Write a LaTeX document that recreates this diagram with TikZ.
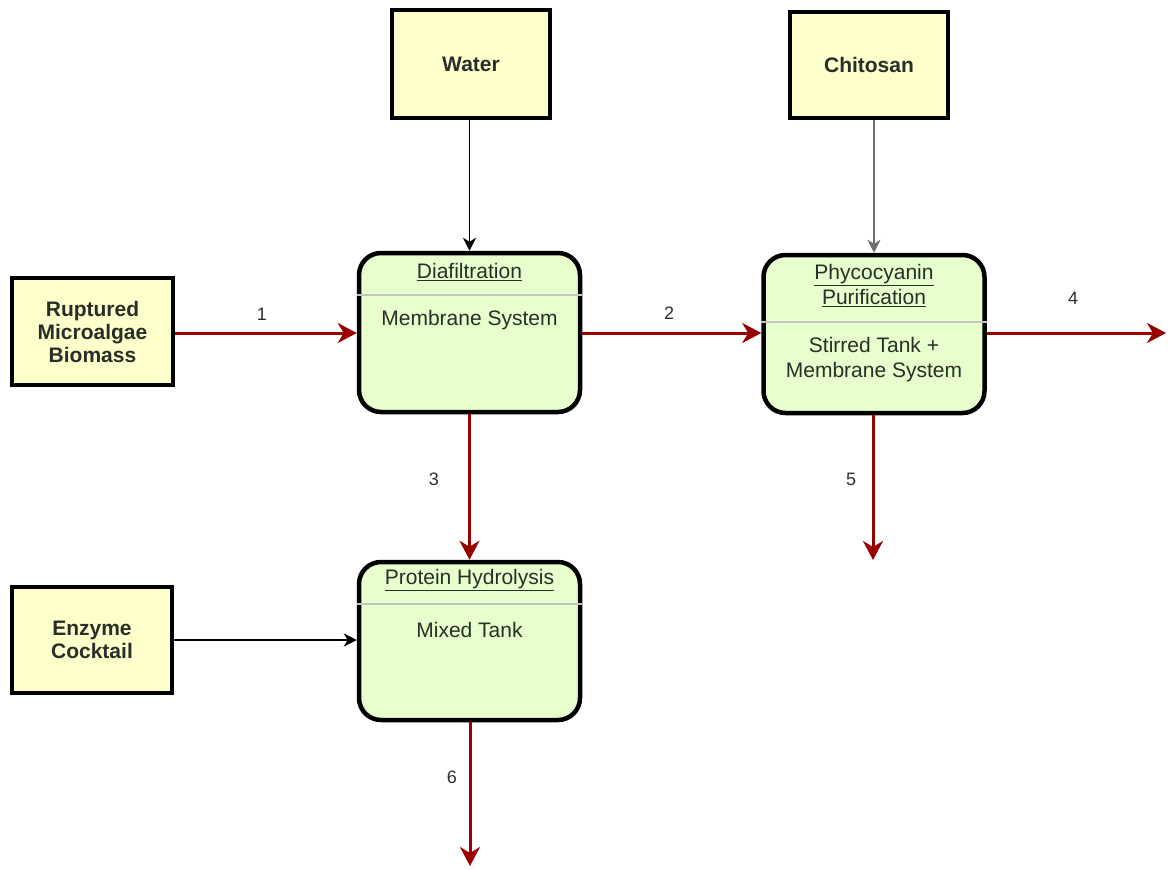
\documentclass[tikz,border=0pt]{standalone}
\usepackage{fontspec}
\setmainfont{Liberation Sans}
\usetikzlibrary{arrows.meta}
\definecolor{inputfill}{HTML}{FFFFCC}
\definecolor{unitfill}{HTML}{E6FFCC}
\definecolor{flowred}{HTML}{990000}
\definecolor{bodytext}{HTML}{2A2E28}
\definecolor{sepline}{HTML}{C4C4C4}
\definecolor{feedgray}{HTML}{707070}
\tikzset{
  inputbox/.style={draw=black, line width=4.5pt, fill=inputfill, rectangle,
    align=center, text=bodytext, font=\fontsize{21}{23}\selectfont\bfseries},
  unitbox/.style={draw=black, line width=4.5pt, fill=unitfill, rectangle,
    rounded corners=22pt, minimum width=221pt},
  unittitle/.style={align=center, text=bodytext, font=\fontsize{21}{25}\selectfont, inner sep=0pt},
  unitbody/.style={align=center, text=bodytext, font=\fontsize{21}{25}\selectfont, inner sep=0pt},
  separator/.style={draw=sepline, line width=1.8pt},
  redflow/.style={draw=flowred, line width=3pt,
    -{Stealth[length=19pt,width=20pt,inset=6pt]}},
  feedflow/.style={draw=black, line width=1.5pt,
    -{Stealth[length=13pt,width=13pt,inset=4pt]}},
  streamno/.style={text=bodytext, font=\fontsize{18}{20}\selectfont, inner sep=0pt},
}
\begin{document}
\begin{tikzpicture}[x=1pt, y=-1pt]
  \useasboundingbox (0,0) rectangle (1168,870);

  % feed materials
  \node[inputbox, minimum width=158pt, minimum height=108pt] (water) at (471,64) {Water};
  \node[inputbox, minimum width=158pt, minimum height=106pt] (chito) at (869,65) {Chitosan};
  \node[inputbox, minimum width=161pt, minimum height=107pt] (bio) at (92.5,331.5)
    {Ruptured\\Microalgae\\Biomass};
  \node[inputbox, minimum width=160pt, minimum height=106pt] (enz) at (92,640)
    {Enzyme\\Cocktail};

  % process units
  \node[unitbox, minimum height=159pt] (dia) at (469.5,332.5) {};
  \draw[separator] (dia.west |- 0,295) -- (dia.east |- 0,295);
  \node[unittitle] (diat) at (469.5,272) {\underline{Diafiltration}};
  \node[unitbody] (diab) at (469.5,320) {Membrane System};

  \node[unitbox, minimum height=158pt] (phy) at (874,334) {};
  \draw[separator] (phy.west |- 0,322) -- (phy.east |- 0,322);
  \node[unittitle] (phyt) at (874,285.5) {\underline{Phycocyanin}\\\underline{Purification}};
  \node[unitbody] (phyb) at (874,359.5) {Stirred Tank +\\Membrane System};

  \node[unitbox, minimum height=158pt] (pro) at (469.5,641) {};
  \draw[separator] (pro.west |- 0,604) -- (pro.east |- 0,604);
  \node[unittitle] (prot) at (469.5,580) {\underline{Protein Hydrolysis}};
  \node[unitbody] (prob) at (469.5,630) {Mixed Tank};

  % free ends of product streams
  \coordinate (out4) at (1166,333);
  \coordinate (out5) at (873,560);
  \coordinate (out6) at (470,866);

  % feed connectors
  \draw[feedflow] (water.south -| dia.north) -- (dia.north);
  \draw[feedflow, draw=feedgray] (phy.north |- chito.south) -- (phy.north);
  \draw[feedflow] (enz.east) -- (enz.east -| pro.west);

  % process streams
  \draw[redflow] (bio.east |- 0,333) -- (dia.west |- 0,333);
  \draw[redflow] (dia.east |- 0,333) -- (phy.west |- 0,333);
  \draw[redflow] (phy.east |- out4) -- (out4);
  \draw[redflow] (dia.south) -- (pro.north);
  \draw[redflow] (phy.south -| out5) -- (out5);
  \draw[redflow] (pro.south -| out6) -- (out6);

  % stream numbers
  \node[streamno] (n1) at (262,314) {1};
  \node[streamno] (n2) at (669,313) {2};
  \node[streamno] (n3) at (434,479) {3};
  \node[streamno] (n4) at (1073,298) {4};
  \node[streamno] (n5) at (851,479) {5};
  \node[streamno] (n6) at (452,777) {6};
\end{tikzpicture}
\end{document}
